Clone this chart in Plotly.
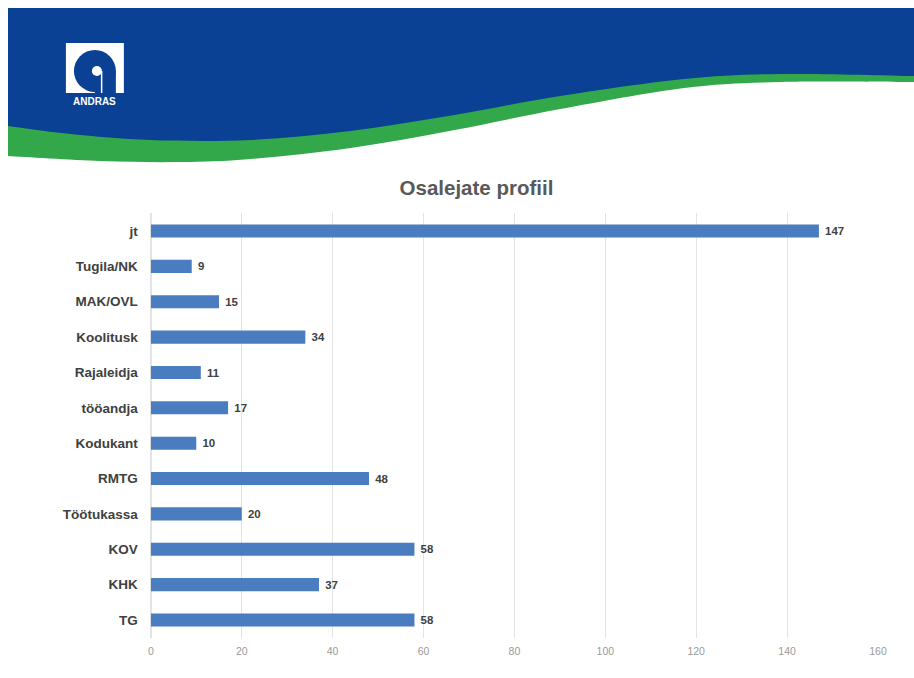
import plotly.graph_objects as go

categories = ["jt", "Tugila/NK", "MAK/OVL", "Koolitusk", "Rajaleidja", "tööandja",
              "Kodukant", "RMTG", "Töötukassa", "KOV", "KHK", "TG"]
values = [147, 9, 15, 34, 11, 17, 10, 48, 20, 58, 37, 58]
x_ticks = [0, 20, 40, 60, 80, 100, 120, 140, 160]
title_text = "Osalejate profiil"

W, H = 914, 678
KX, AX = 0.988, 2.0  # observed horizontal rendering scale/offset compensation


def P(px, py):
    fx = (px - AX) / KX
    return fx / W, 1 - py / H


def spline_path(points, start_cmds):
    segs = []
    pts = points
    for i in range(len(pts) - 1):
        p0 = pts[i - 1] if i > 0 else pts[i]
        p1 = pts[i]
        p2 = pts[i + 1]
        p3 = pts[i + 2] if i + 2 < len(pts) else pts[i + 1]
        c1 = (p1[0] + (p2[0] - p0[0]) / 6, p1[1] + (p2[1] - p0[1]) / 6)
        c2 = (p2[0] - (p3[0] - p1[0]) / 6, p2[1] - (p3[1] - p1[1]) / 6)
        a = P(*c1); b = P(*c2); c = P(*p2)
        segs.append(f"C {a[0]:.5f},{a[1]:.5f} {b[0]:.5f},{b[1]:.5f} {c[0]:.5f},{c[1]:.5f}")
    return start_cmds + " " + " ".join(segs) + " Z"


def band(bottom_pts):
    tl = P(7, 8); tr = P(930, 8); s = P(*bottom_pts[0])
    start = f"M {tl[0]:.5f},{tl[1]:.5f} L {tr[0]:.5f},{tr[1]:.5f} L {s[0]:.5f},{s[1]:.5f}"
    return spline_path(bottom_pts, start)


green_bottom = [(930, 82), (914, 82), (780, 82), (684, 88), (560, 109), (454, 130), (350, 148),
                (250, 159), (180, 162), (100, 161), (7, 156)]
blue_bottom = [(930, 76), (914, 76), (780, 74), (684, 79), (560, 96), (454, 115), (350, 131),
               (250, 140), (150, 140), (70, 134), (7, 126)]

shapes = [
    dict(type="path", xref="paper", yref="paper", path=band(green_bottom),
         fillcolor="#32a84a", line=dict(width=0), layer="below"),
    dict(type="path", xref="paper", yref="paper", path=band(blue_bottom),
         fillcolor="#0b4194", line=dict(width=0), layer="below"),
]

# logo
x0, y0 = P(65, 43); x1, y1 = P(123, 93)
shapes.append(dict(type="rect", xref="paper", yref="paper", x0=x0, y0=y1, x1=x1, y1=y0,
                   fillcolor="white", line=dict(width=0), layer="below"))
cx0, cy0 = P(73, 50); cx1, cy1 = P(115, 92)
shapes.append(dict(type="circle", xref="paper", yref="paper", x0=cx0, y0=cy1, x1=cx1, y1=cy0,
                   fillcolor="#0b4194", line=dict(width=0), layer="below"))
rx0, ry0 = P(94, 71); rx1, ry1 = P(115, 93)
shapes.append(dict(type="rect", xref="paper", yref="paper", x0=rx0, y0=ry1, x1=rx1, y1=ry0,
                   fillcolor="#0b4194", line=dict(width=0), layer="below"))
sx0, sy0 = P(91, 66); sx1, sy1 = P(101, 76)
shapes.append(dict(type="circle", xref="paper", yref="paper", x0=sx0, y0=sy1, x1=sx1, y1=sy0,
                   fillcolor="white", line=dict(width=0), layer="below"))
lx0, ly0 = P(100, 71); lx1, ly1 = P(101.5, 93)
shapes.append(dict(type="rect", xref="paper", yref="paper", x0=lx0, y0=ly1, x1=lx1, y1=ly0,
                   fillcolor="white", line=dict(width=0), layer="below"))

ax_px, ay_px = P(94, 101)
annotations = [
    dict(text="<b>ANDRAS</b>", xref="paper", yref="paper", x=ax_px, y=ay_px,
         showarrow=False, font=dict(family="Liberation Sans Narrow, Liberation Sans", size=10, color="white"),
         xanchor="center", yanchor="middle"),
]

fig = go.Figure(go.Bar(
    x=values, y=categories, orientation="h",
    marker=dict(color="#4a7dbf", line=dict(width=0)),
    text=values, texttemplate=" %{text}", textposition="outside", cliponaxis=False,
    textfont=dict(family="Liberation Sans", size=14, color="#404040", weight="bold"),
))

tx, ty = P(476, 188)
xd0, _ = P(150, 0); xd1, _ = P(878, 0)
_, yd1 = P(0, 213.3); _, yd0 = P(0, 637.7)
fig.update_layout(
    width=W, height=H,
    margin=dict(l=0, r=0, t=0, b=0),
    paper_bgcolor="white", plot_bgcolor="rgba(0,0,0,0)",
    showlegend=False,
    bargap=0.63,
    shapes=shapes,
    annotations=annotations,
    title=dict(text="<b>" + title_text + "</b>", x=tx, y=ty, xanchor="center", yanchor="middle",
               xref="paper", yref="paper",
               font=dict(family="Liberation Sans", size=20.5, color="#595959")),
    xaxis=dict(domain=[xd0, xd1], range=[0, 160], tickvals=x_ticks,
               showgrid=True, gridcolor="#e3e3e3", gridwidth=1, zeroline=True,
               zerolinecolor="#e3e3e3", showline=False, ticks="", ticklabelstandoff=6,
               tickfont=dict(family="Liberation Sans Narrow, Liberation Sans", size=10.5, color="#9a9a9a"),
               anchor="y"),
    yaxis=dict(domain=[yd0, yd1], autorange="reversed",
               ticks="", showgrid=False, ticklabelstandoff=12,
               tickfont=dict(family="Liberation Sans", size=13.5, color="#404040", weight="bold"),
               anchor="x"),
    font=dict(family="Liberation Sans"),
)

fig.write_html(
    "out.html",
    config={"responsive": False, "displayModeBar": False},
    post_script="document.body.style.margin='0';document.body.style.overflow='hidden';",
)
